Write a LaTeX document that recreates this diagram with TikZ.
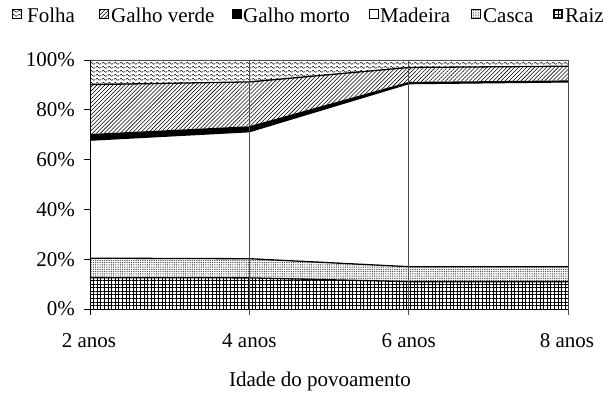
\documentclass[tikz,border=0pt]{standalone}
\usepackage{fontspec}
\setmainfont{Liberation Serif}
\usetikzlibrary{patterns,patterns.meta}
\pgfdeclarepatternformonly{folhawaves}{\pgfpoint{0pt}{0pt}}{\pgfpoint{6pt}{4pt}}{\pgfpoint{6pt}{4pt}}{%
  \pgfsetlinewidth{0.55pt}%
  \pgfpathmoveto{\pgfpoint{0pt}{2pt}}%
  \pgfpathcurveto{\pgfpoint{1pt}{3.7pt}}{\pgfpoint{2pt}{3.7pt}}{\pgfpoint{3pt}{2pt}}%
  \pgfpathcurveto{\pgfpoint{4pt}{0.3pt}}{\pgfpoint{5pt}{0.3pt}}{\pgfpoint{6pt}{2pt}}%
  \pgfusepath{stroke}}
\tikzset{
  folhafill/.style={pattern=folhawaves},
  verdefill/.style={pattern={Lines[angle=45,distance=2.8pt,line width=0.55pt]}},
  mortofill/.style={fill=black},
  madeirafill/.style={fill=white},
  cascafill/.style={pattern={Dots[distance=1.8pt,radius=0.45pt]}},
  raizfill/.style={pattern={Hatch[distance=3.6pt,line width=0.75pt]}},
  bound/.style={line width=1.3pt,line join=round},
  grid/.style={draw=black!70,line width=0.8pt},
  axisline/.style={draw=black,line width=0.8pt},
  legsq/.style={draw=black,line width=0.6pt,minimum size=9pt,inner sep=0pt,anchor=south west},
  legtxt/.style={inner sep=0pt,anchor=base west},
  lab/.style={inner sep=0pt}
}
\begin{document}
\begin{tikzpicture}[x=1pt,y=1pt,font=\fontsize{21}{25}\selectfont]
\useasboundingbox (0,0) rectangle (608,392);
% legend
\node[legsq,folhafill]   (lq1) at (12,373) {};
\node[legtxt] (lt1) at (27,370) {Folha};
\node[legsq,verdefill]   (lq2) at (99,373) {};
\node[legtxt] (lt2) at (111,370) {Galho verde};
\node[legsq,mortofill]   (lq3) at (232,373) {};
\node[legtxt] (lt3) at (243,370) {Galho morto};
\node[legsq,madeirafill] (lq4) at (369,373) {};
\node[legtxt] (lt4) at (380,370) {Madeira};
\node[legsq,cascafill]   (lq5) at (471,373) {};
\node[legtxt] (lt5) at (483,370) {Casca};
\node[legsq,raizfill]    (lq6) at (553,373) {};
\node[legtxt] (lt6) at (565,370) {Raiz};
% data
\begin{scope}[shift={(90pt,83pt)},x=159.33pt,y=2.49pt]
\fill[raizfill] (0,0) -- (0,12.6) -- (1,12.5) -- (2,11) -- (3,11) -- (3,0) -- cycle;
\fill[cascafill] (0,12.6) -- (0,20.4) -- (1,20.2) -- (2,17) -- (3,17) -- (3,11) -- (2,11) -- (1,12.5) -- cycle;
\fill[mortofill] (0,67.8) -- (0,70.3) -- (1,73.4) -- (2,91.2) -- (3,91.8) -- (3,91.2) -- (2,90.5) -- (1,71.2) -- cycle;
\fill[verdefill] (0,70.3) -- (0,90.1) -- (1,91.2) -- (2,97) -- (3,97.5) -- (3,91.8) -- (2,91.2) -- (1,73.4) -- cycle;
\fill[folhafill] (0,90.1) -- (0,100) -- (3,100) -- (3,97.5) -- (2,97) -- (1,91.2) -- cycle;
% boundaries
\draw[bound] (0,12.6) -- (1,12.5) -- (2,11) -- (3,11);
\draw[bound] (0,20.4) -- (1,20.2) -- (2,17) -- (3,17);
\draw[bound] (0,67.8) -- (1,71.2) -- (2,90.5) -- (3,91.2);
\draw[bound] (0,90.1) -- (1,91.2) -- (2,97) -- (3,97.5);
% grid and axes
\draw[grid] (0,100) -- (3,100);
\draw[grid] (1,-2.4) -- (1,100);
\draw[grid] (2,-2.4) -- (2,100);
\draw[grid] (3,-2.4) -- (3,100);
\draw[axisline] (0,-2.4) -- (0,100);
\draw[axisline] (0,0) -- (3,0);
\foreach \p in {0,20,40,60,80,100} {
  \draw[axisline] (-6pt,\p) -- (0,\p);
}
\foreach \p/\n in {0/y0,20/y1,40/y2,60/y3,80/y4,100/y5} {
  \node[lab,anchor=east] (\n) at ([xshift=-15pt]0,\p) {\p\%};
}
\end{scope}
% x labels
\node[lab,anchor=base] (x1) at (89,45) {2 anos};
\node[lab,anchor=base] (x2) at (249.3,45) {4 anos};
\node[lab,anchor=base] (x3) at (408.7,45) {6 anos};
\node[lab,anchor=base] (x4) at (567,45) {8 anos};
\node[lab,anchor=base] (xt) at (320,6) {Idade do povoamento};
\end{tikzpicture}
\end{document}
